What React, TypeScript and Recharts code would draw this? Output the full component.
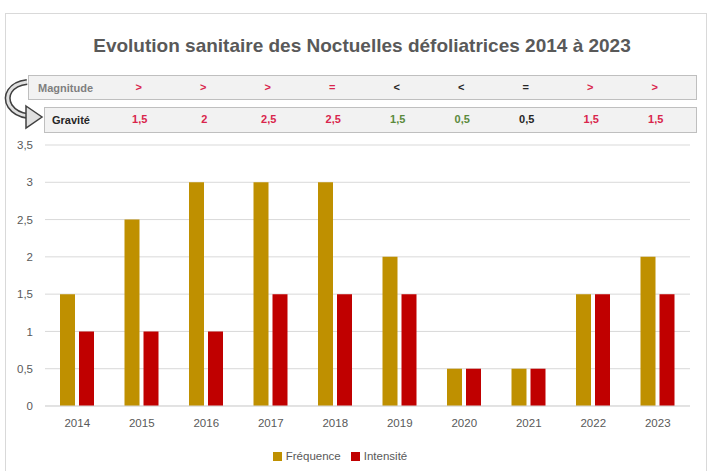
import React from 'react';
import { BarChart, Bar, XAxis, YAxis, CartesianGrid, Legend } from 'recharts';

const years = ['2014', '2015', '2016', '2017', '2018', '2019', '2020', '2021', '2022', '2023'];
const frequence = [1.5, 2.5, 3, 3, 3, 2, 0.5, 0.5, 1.5, 2];
const intensite = [1, 1, 1, 1.5, 1.5, 1.5, 0.5, 0.5, 1.5, 1.5];
const magnitude = ['', '>', '>', '>', '=', '<', '<', '=', '>', '>'];
const gravite = ['', '1,5', '2', '2,5', '2,5', '1,5', '0,5', '0,5', '1,5', '1,5'];
const yTicks = [0, 0.5, 1, 1.5, 2, 2.5, 3, 3.5];

const RED = '#d9254c';
const GREEN = '#5b8a3c';
const DARK = '#262626';
const magColors = ['', RED, RED, RED, RED, DARK, DARK, DARK, RED, RED];
const gravColors = ['', RED, RED, RED, RED, GREEN, GREEN, DARK, RED, RED];

const data = years.map((year, i) => ({
  year,
  frequence: frequence[i],
  intensite: intensite[i],
}));

const FONT = '"Liberation Sans", Arial, sans-serif';

function TableTick(props: any) {
  const { x, payload } = props;
  const i = payload.index;
  return (
    <g fontFamily={FONT} fontWeight="bold" fontSize={11} textAnchor="middle">
      <text x={x - 3} y={91} fill={magColors[i]}>
        {magnitude[i]}
      </text>
      <text x={x - 2} y={123} fill={gravColors[i]}>
        {gravite[i]}
      </text>
    </g>
  );
}

function Backdrop() {
  return (
    <svg width={712} height={471} style={{ position: 'absolute', left: 0, top: 0 }}>
      <rect x={5.5} y={13.5} width={701} height={470} fill="#fff" stroke="#d9d9d9" />
      <text
        x={362}
        y={52}
        textAnchor="middle"
        fontFamily={FONT}
        fontWeight="bold"
        fontSize={19}
        fill="#595959"
      >
        Evolution sanitaire des Noctuelles défoliatrices 2014 à 2023
      </text>
      <rect x={28.5} y={75.5} width={668} height={24} fill="#f2f2f2" stroke="#bfbfbf" />
      <rect x={44.5} y={107.5} width={652} height={25} fill="#f2f2f2" stroke="#bfbfbf" />
      <text x={38} y={92} fontFamily={FONT} fontWeight="bold" fontSize={11} fill="#7f7f7f">
        Magnitude
      </text>
      <text x={52} y={124} fontFamily={FONT} fontWeight="bold" fontSize={11} fill="#262626">
        Gravité
      </text>
      <path d="M27 82 C 10 84, 4 96, 10 106 C 14 112, 20 115, 28 116" fill="none" stroke="#404040" strokeWidth={6} />
      <path d="M27 82 C 10 84, 4 96, 10 106 C 14 112, 20 115, 28 116" fill="none" stroke="#e0e0e0" strokeWidth={3} />
      <polygon points="26,106 42,117 26,128" fill="#e0e0e0" stroke="#404040" strokeWidth={1.5} />
    </svg>
  );
}

export default function App() {
  return (
    <div style={{ position: 'absolute', left: 0, top: 0, width: 712, height: 471, overflow: 'hidden' }}>
      <Backdrop />
      <div style={{ position: 'absolute', left: 0, top: 0 }}>
        <BarChart
          width={712}
          height={471}
          data={data}
          margin={{ top: 144, right: 22, bottom: 0, left: 0 }}
          barSize={15}
          barGap={4}
        >
          <CartesianGrid vertical={false} stroke="#d9d9d9" />
          <XAxis
            dataKey="year"
            axisLine={{ stroke: '#d9d9d9' }}
            tickLine={false}
            tick={{ fill: '#595959', fontSize: 11.5, fontFamily: FONT }}
            tickMargin={7}
            interval={0}
            height={53}
          />
          <XAxis
            xAxisId="tbl"
            orientation="top"
            dataKey="year"
            axisLine={false}
            tickLine={false}
            height={1}
            interval={0}
            tick={<TableTick />}
          />
          <YAxis
            width={45}
            domain={[0, 3.5]}
            ticks={yTicks}
            axisLine={false}
            tickLine={false}
            tickMargin={6}
            tick={{ fill: '#595959', fontSize: 11.5, fontFamily: FONT }}
            tickFormatter={(v: number) => String(v).replace('.', ',')}
          />
          <Legend
            verticalAlign="bottom"
            iconType="square"
            iconSize={9}
            wrapperStyle={{ top: 450, fontFamily: FONT, fontSize: 11.5 }}
            formatter={(value: string) => <span style={{ color: '#595959' }}>{value}</span>}
          />
          <Bar dataKey="frequence" name="Fréquence" fill="#bf9000" isAnimationActive={false} />
          <Bar dataKey="intensite" name="Intensité" fill="#c00000" isAnimationActive={false} />
        </BarChart>
      </div>
    </div>
  );
}
